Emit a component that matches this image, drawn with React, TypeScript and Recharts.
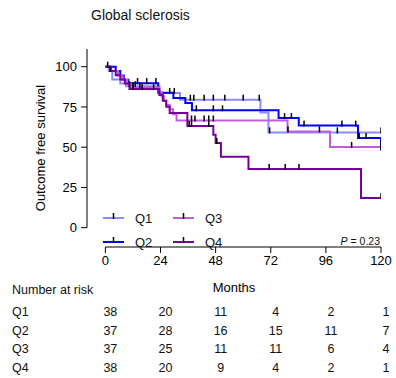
import React from "react";
import {
  ComposedChart,
  Line,
  Scatter,
  XAxis,
  YAxis,
  ReferenceLine,
  Label,
} from "recharts";

const months = [0, 24, 48, 72, 96, 120];
const yTicks = [0, 25, 50, 75, 100];

// Kaplan-Meier steps (months, % survival)
const q1Times = [0, 1.5, 3, 6.5, 9, 23.5, 32.5, 67.5, 71, 120];
const q1Surv = [100, 97.4, 92.1, 89.5, 87.9, 83.7, 79.5, 71.6, 59.2, 59.2];
const q1Censor = [2, 10.5, 13, 28, 30, 37, 38.5, 43, 47, 52, 60, 67, 71.5, 101, 120];

const q2Times = [0, 4.5, 6.5, 8, 10, 23, 29.6, 34.8, 37.7, 75.4, 84.2, 110, 120];
const q2Surv = [100, 97.3, 94.6, 91.9, 89.8, 83.8, 80.5, 77.4, 72.9, 68.1, 63.4, 55.7, 48.4];
const q2Censor = [1, 14, 18, 22, 39.6, 47, 51, 78, 81, 86.5, 103, 109, 110.5, 113.5, 120];

const q3Times = [0, 2, 5.5, 7.5, 9.5, 11, 23.5, 24.5, 25.5, 26.5, 28, 29.5, 31, 79.3, 97.8, 120];
const q3Surv = [100, 97.3, 94.6, 91.9, 89.2, 87.2, 84.3, 81.6, 78.9, 76.2, 73.5, 70.4, 66.6, 59.8, 50.1, 50.1];
const q3Censor = [12, 15, 37.5, 39, 43, 45, 47, 79.5, 93.2, 107.2, 120];

const q4Times = [0, 2.5, 4.5, 6.5, 8.5, 10.5, 23.5, 25, 26.5, 28, 35.7, 47, 48, 50.3, 62.3, 111.3, 120];
const q4Surv = [100, 97.4, 94.7, 92.1, 89.5, 86.1, 82.5, 78.9, 75.2, 71.2, 63.2, 57.8, 52.6, 44, 36.5, 18.4, 18.4];
const q4Censor = [12, 16, 21, 36.5, 37.5, 45, 48.5, 71.3, 78.3, 84.3, 120];

// number at risk at each month tick
const riskQ1 = [38, 20, 11, 4, 2, 1];
const riskQ2 = [37, 28, 16, 15, 11, 7];
const riskQ3 = [37, 25, 11, 11, 6, 4];
const riskQ4 = [38, 20, 9, 4, 2, 1];

const FONT = "'Liberation Sans', Arial, sans-serif";

const groups = [
  { name: "Q1", color: "#8c8cff", times: q1Times, surv: q1Surv, censor: q1Censor, risk: riskQ1 },
  { name: "Q2", color: "#0000ff", times: q2Times, surv: q2Surv, censor: q2Censor, risk: riskQ2 },
  { name: "Q3", color: "#bf5fdf", times: q3Times, surv: q3Surv, censor: q3Censor, risk: riskQ3 },
  { name: "Q4", color: "#76009a", times: q4Times, surv: q4Surv, censor: q4Censor, risk: riskQ4 },
];

// vertical offsets of the risk table rows below the month labels
const ROW_TOP = 56;
const ROW_GAP = 18.5;

const stepAt = (times: number[], surv: number[], t: number) => {
  let v = surv[0];
  times.forEach((tt, i) => {
    if (tt <= t) v = surv[i];
  });
  return v;
};

const CensorMark = (p: any) => (
  <rect x={p.cx - 0.75} y={p.cy - 5} width={1.5} height={6} fill="#000" />
);

// month label plus the risk counts under it
const MonthTick = (p: any) => {
  const idx = months.indexOf(p.payload.value);
  return (
    <g fontFamily={FONT}>
      <text x={p.x} y={p.y} dy="0.71em" textAnchor="middle" fontSize={13} fill="#000">
        {p.payload.value}
      </text>
      {groups.map((g, gi) => (
        <text
          key={g.name}
          x={p.x + 5}
          y={p.y + ROW_TOP + gi * ROW_GAP}
          dy="0.35em"
          textAnchor="middle"
          fontSize={12.5}
          fill="#111"
        >
          {g.risk[idx]}
        </text>
      ))}
    </g>
  );
};

const AxisTitles = (p: any) => {
  const vb = p.viewBox;
  const left = 12;
  const base = vb.y + 9;
  return (
    <g fontFamily={FONT} fill="#111">
      <text x={vb.x + vb.width / 2} y={vb.y + 40} dy="0.35em" textAnchor="middle" fontSize={13} fill="#000">
        Months
      </text>
      <text x={left} y={vb.y + 43} dy="0.35em" fontSize={12.5}>
        Number at risk
      </text>
      {groups.map((g, gi) => (
        <text key={g.name} x={left} y={base + ROW_TOP + gi * ROW_GAP} dy="0.35em" fontSize={12.5}>
          {g.name}
        </text>
      ))}
    </g>
  );
};

const legendItems = [
  { g: 0, x: 103, y: 218 },
  { g: 2, x: 173, y: 218 },
  { g: 1, x: 103, y: 242 },
  { g: 3, x: 173, y: 242 },
];

export default function App() {
  return (
    <div style={{ position: "absolute", left: 0, top: 0, width: 396, height: 378, fontFamily: FONT, background: "#fff" }}>
      <ComposedChart width={396} height={378} margin={{ top: 49, right: 15, left: 0, bottom: 1 }}>
        <XAxis
          type="number"
          dataKey="t"
          domain={[-8, 120]}
          ticks={months}
          interval={0}
          allowDataOverflow
          axisLine={false}
          tickLine={{ stroke: "#000" }}
          tickSize={6}
          tickMargin={3}
          tick={MonthTick}
          height={130}
        >
          <Label content={AxisTitles} />
        </XAxis>
        <YAxis
          type="number"
          dataKey="s"
          domain={[-12, 111]}
          ticks={yTicks}
          interval={0}
          allowDataOverflow
          width={87}
          axisLine={false}
          tickLine={{ stroke: "#000" }}
          tickSize={6}
          tickMargin={4}
          tick={{ fill: "#000", fontSize: 13, fontFamily: FONT }}
        >
          <Label
            value="Outcome free survival"
            angle={-90}
            position="insideLeft"
            offset={40}
            style={{ textAnchor: "middle", fontSize: 13, fill: "#000", fontFamily: FONT }}
          />
        </YAxis>
        <ReferenceLine segment={[{ x: 0, y: -12 }, { x: 120, y: -12 }]} stroke="#000" strokeWidth={1} ifOverflow="visible" />
        <ReferenceLine segment={[{ x: -8, y: 0 }, { x: -8, y: 111 }]} stroke="#000" strokeWidth={1} ifOverflow="visible" />
        {groups.map((g) => (
          <Line
            key={`l-${g.name}`}
            data={g.times.map((t, i) => ({ t, s: g.surv[i] }))}
            dataKey="s"
            type="stepAfter"
            stroke={g.color}
            strokeWidth={2}
            dot={false}
            activeDot={false}
            isAnimationActive={false}
          />
        ))}
        {groups.map((g) => (
          <Scatter
            key={`c-${g.name}`}
            data={g.censor.map((t) => ({ t, s: stepAt(g.times, g.surv, t) }))}
            shape={CensorMark}
            isAnimationActive={false}
          />
        ))}
      </ComposedChart>
      <svg
        width={396}
        height={378}
        style={{ position: "absolute", left: 0, top: 0, pointerEvents: "none" }}
        fontFamily={FONT}
      >
        <text x={91} y={15} dy="0.35em" fontSize={14} fill="#111">
          Global sclerosis
        </text>
        {legendItems.map((it) => {
          const g = groups[it.g];
          return (
            <g key={g.name}>
              <line x1={it.x} x2={it.x + 21} y1={it.y} y2={it.y} stroke={g.color} strokeWidth={2} />
              <rect x={it.x + 9.75} y={it.y - 5} width={1.5} height={6} fill="#000" />
              <text x={it.x + 32} y={it.y} dy="0.35em" fontSize={13} fill="#111">
                {g.name}
              </text>
            </g>
          );
        })}
        <text x={380} y={241} dy="0.35em" textAnchor="end" fontSize={10.5} fill="#111">
          <tspan fontStyle="italic">P</tspan> = 0.23
        </text>
      </svg>
    </div>
  );
}
